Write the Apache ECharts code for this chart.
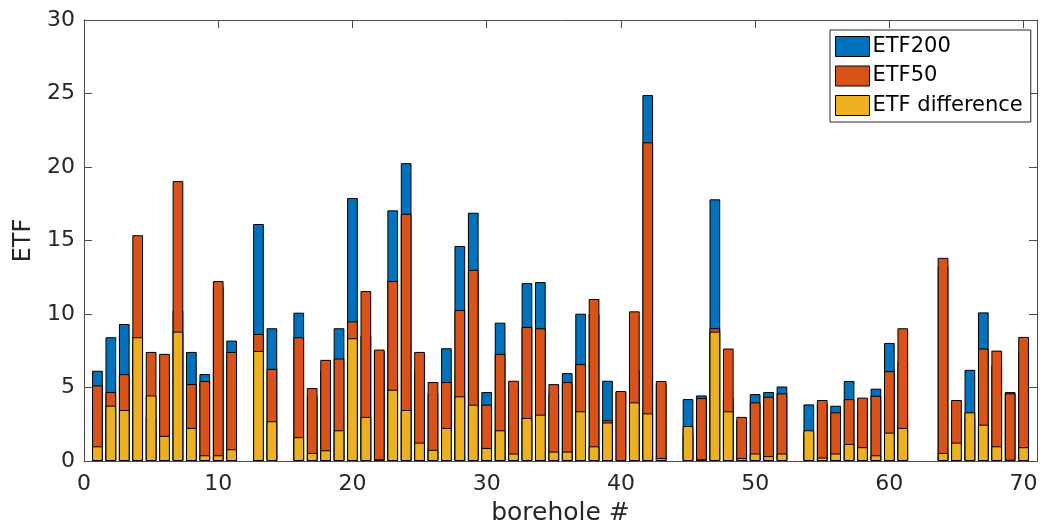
<!DOCTYPE html>
<html>
<head>
<meta charset="utf-8">
<script src="https://cdn.jsdelivr.net/npm/echarts@6/dist/echarts.min.js"></script>
<style>html,body{margin:0;padding:0;background:#fff;}#c{width:1049px;height:531px;}</style>
</head>
<body>
<div id="c"></div>
<script>
const boreholes = [1,2,3,4,5,6,7,8,9,10,11,12,13,14,15,16,17,18,19,20,21,22,23,24,25,26,27,28,29,30,31,32,33,34,35,36,37,38,39,40,41,42,43,44,45,46,47,48,49,50,51,52,53,54,55,56,57,58,59,60,61,62,63,64,65,66,67,68,69,70];
const etf200 = [6.14,8.42,9.32,6.94,2.96,5.58,10.24,7.42,5.91,11.85,8.19,null,16.12,9.03,null,10.09,4.41,6.15,9.03,17.89,8.56,7.46,17.05,20.26,6.17,4.61,7.67,14.63,16.89,4.69,9.41,4.95,12.10,12.17,4.59,5.98,10.02,10.02,5.46,4.71,6.19,24.89,5.24,null,4.21,4.46,17.80,4.27,2.80,4.55,4.69,5.07,null,3.85,3.91,3.76,5.44,3.37,4.92,8.03,6.78,null,null,13.27,2.90,6.20,10.11,6.51,4.69,7.50];
const etf50 = [5.14,4.69,5.91,15.36,7.42,7.29,19.04,5.23,5.44,12.24,7.42,null,8.64,6.27,null,8.42,4.96,6.88,6.97,9.50,11.56,7.58,12.24,16.82,7.42,5.37,5.37,10.27,13.00,3.83,7.29,5.46,9.12,9.03,5.23,5.37,6.59,11.02,2.77,4.76,10.18,21.68,5.44,null,1.83,4.28,9.03,7.65,3.00,3.99,4.37,4.60,null,1.76,4.15,3.31,4.21,4.31,4.44,6.11,9.03,null,null,13.82,4.15,2.89,7.65,7.51,4.60,8.44];
const etfDiff = [1.00,3.76,3.47,8.42,4.46,1.71,8.80,2.25,0.39,0.39,0.80,null,7.49,2.70,null,1.62,0.55,0.73,2.09,8.35,3.00,0.12,4.85,3.47,1.25,0.76,2.25,4.40,3.83,0.89,2.09,0.51,2.93,3.15,0.64,0.64,3.38,1.00,2.62,0.05,3.99,3.24,0.20,null,2.38,0.12,8.80,3.38,0.20,0.51,0.33,0.51,null,2.09,0.24,0.51,1.16,0.94,0.39,1.93,2.25,null,null,0.55,1.25,3.31,2.47,1.00,0.09,0.94];
const seriesNames = ['ETF200','ETF50','ETF difference'];
const colors = ['#0072BD','#D95319','#EDB120'];
const xTicks = [0,10,20,30,40,50,60,70];
const yTicks = [0,5,10,15,20,25,30];

const FONT = 'DejaVu Sans';
const TXT = '#262626';
const AX = '#4d4d4d';

function pairs(vals){ return boreholes.map((b,i)=>[b, vals[i]]); }

const chart = echarts.init(document.getElementById('c'), null, {renderer:'canvas'});
const barW = 10.7;
const mkSeries = (name, vals, color, z) => ({
  name, type:'bar', data: pairs(vals), barWidth: barW, barGap:'-100%', z,
  xAxisIndex:0, yAxisIndex:0,
  itemStyle:{color, borderColor:'#000', borderWidth:1},
  emphasis:{disabled:true}, animation:false
});
const axisCommon = {
  axisLine:{show:true, onZero:false, lineStyle:{color:AX, width:1}},
  axisTick:{show:true, inside:true, length:8, lineStyle:{color:AX, width:1}},
  splitLine:{show:false}
};
chart.setOption({
  animation:false,
  grid:{left:84, right:12, top:20, bottom:69, containLabel:false},
  legend:{
    data: seriesNames, orient:'vertical', left:830, top:30, z:10,
    itemWidth:34, itemHeight:20, itemGap:8.5,
    padding:[6,8,6,5],
    backgroundColor:'#fff', borderColor:'#262626', borderWidth:1,
    icon:'rect',
    itemStyle:{borderColor:'#000', borderWidth:1},
    textStyle:{fontFamily:FONT, fontSize:21, color:'#000', lineHeight:20, padding:[0,0,0,-2]},
    selectedMode:false
  },
  xAxis:[
    Object.assign({type:'value', min:0, max:71, interval:10, position:'bottom',
      name:'borehole #', nameLocation:'middle', nameGap:40,
      nameTextStyle:{fontFamily:FONT, fontSize:25, color:TXT},
      axisLabel:{fontFamily:FONT, fontSize:22, color:TXT, margin:12,
        formatter:v=> xTicks.includes(v) ? String(v) : ''}}, axisCommon),
    Object.assign({type:'value', min:0, max:71, interval:10, position:'top',
      axisLabel:{show:false}}, axisCommon)
  ],
  yAxis:[
    Object.assign({type:'value', min:0, max:30, interval:5, position:'left',
      name:'ETF', nameLocation:'middle', nameGap:41, nameRotate:90,
      nameTextStyle:{fontFamily:FONT, fontSize:24, color:TXT},
      axisLabel:{fontFamily:FONT, fontSize:22, color:TXT, margin:9,
        formatter:v=> yTicks.includes(v) ? String(v) : ''}}, axisCommon),
    Object.assign({type:'value', min:0, max:30, interval:5, position:'right',
      axisLabel:{show:false}}, axisCommon)
  ],
  series:[
    mkSeries(seriesNames[0], etf200, colors[0], 2),
    mkSeries(seriesNames[1], etf50, colors[1], 3),
    mkSeries(seriesNames[2], etfDiff, colors[2], 4)
  ]
});
</script>
</body>
</html>
